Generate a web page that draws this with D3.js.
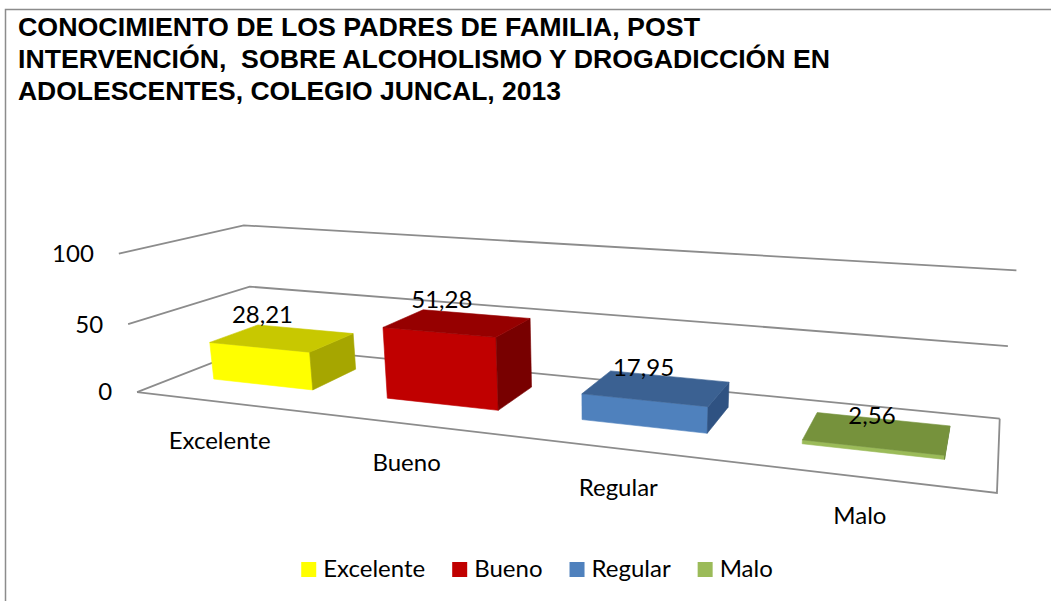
<!doctype html>
<html lang="es">
<head>
  <meta charset="utf-8">
  <script src="https://d3js.org/d3.v7.min.js"></script>
  <style>
    html, body { margin: 0; padding: 0; background: #fff; }
    svg { display: block; }
  </style>
</head>
<body>
<script>
  // chart data
  var categories = ["Excelente", "Bueno", "Regular", "Malo"];
  var values = [28.21, 51.28, 17.95, 2.56];
  var valueLabels = ["28,21", "51,28", "17,95", "2,56"];
  var ticks = [0, 50, 100];
  var frontColors = ["#ffff00", "#c00000", "#4f81bd", "#9bbb59"];
  var topColors = ["#c8c800", "#960000", "#3b6192", "#76923c"];
  var sideColors = ["#a6a600", "#780000", "#2f5282", "#5e7a2e"];
  var titleLines = [
    "CONOCIMIENTO DE LOS PADRES DE FAMILIA, POST",
    "INTERVENCIÓN,  SOBRE ALCOHOLISMO Y DROGADICCIÓN EN",
    "ADOLESCENTES, COLEGIO JUNCAL, 2013"
  ];

  var width = 1051, height = 601;
  var labelFont = "Lato, Carlito, Calibri, sans-serif";

  // perspective of the 3d box: world (x, y, z) in [0,1], z = depth (0 front)
  // pinned to where the box corners sit in the picture
  var pins = [
    [0, 0, 0, 137, 393], [0, 0.5, 0, 127, 322], [0, 1, 0, 120, 255],
    [0, 0, 1, 256, 346], [0, 0.5, 1, 250, 287], [0, 1, 1, 243, 225],
    [1, 0, 1, 1000, 418], [1, 0.5, 1, 1007, 347], [1, 1, 1, 1017, 270],
    [1, 0, 0, 997, 493]
  ];

  function fitCamera(pins) {
    var A = [], b = [];
    pins.forEach(function(p) {
      var X = p[0], Y = p[1], Z = p[2], u = p[3], v = p[4];
      A.push([X, Y, Z, 1, 0, 0, 0, 0, -u * X, -u * Y, -u * Z]); b.push(u);
      A.push([0, 0, 0, 0, X, Y, Z, 1, -v * X, -v * Y, -v * Z]); b.push(v);
    });
    var n = 11, M = [];
    for (var i = 0; i < n; i++) {
      M.push([]);
      for (var j = 0; j <= n; j++) {
        var s = 0;
        for (var k = 0; k < A.length; k++) s += A[k][i] * (j < n ? A[k][j] : b[k]);
        M[i].push(s);
      }
    }
    // gaussian elimination
    for (var c = 0; c < n; c++) {
      var piv = c;
      for (var r = c + 1; r < n; r++) if (Math.abs(M[r][c]) > Math.abs(M[piv][c])) piv = r;
      var tmp = M[c]; M[c] = M[piv]; M[piv] = tmp;
      for (var r2 = 0; r2 < n; r2++) {
        if (r2 === c) continue;
        var f = M[r2][c] / M[c][c];
        for (var j2 = c; j2 <= n; j2++) M[r2][j2] -= f * M[c][j2];
      }
    }
    return M.map(function(row, i) { return row[n] / row[i]; });
  }

  var P = fitCamera(pins);

  function proj(x, y, z) {
    var w = P[8] * x + P[9] * y + P[10] * z + 1;
    return [(P[0] * x + P[1] * y + P[2] * z + P[3]) / w,
            (P[4] * x + P[5] * y + P[6] * z + P[7]) / w];
  }

  // scales in world units
  var xScale = d3.scaleBand()
    .domain(categories)
    .range([0, 1])
    .paddingInner(0.416)
    .paddingOuter(0.208);

  var yScale = d3.scaleLinear()
    .domain([0, 100])
    .range([0, 1]);

  var zBar = [0.33, 0.75];

  var svg = d3.select("body").append("svg")
    .attr("width", width)
    .attr("height", height);

  // chart area border (only top and left edges fall inside the picture)
  svg.append("rect")
    .attr("x", 5.5)
    .attr("y", 9.5)
    .attr("width", width + 10)
    .attr("height", height + 10)
    .attr("fill", "#fff")
    .attr("stroke", "#8c8c8c")
    .attr("stroke-width", 1.5);

  // title
  var titleWidths = [682, 812, 543];
  svg.append("g")
    .selectAll("text")
    .data(titleLines)
    .enter()
    .append("text")
    .attr("x", 18)
    .attr("y", function(d, i) { return 36 + i * 32; })
    .attr("textLength", function(d, i) { return titleWidths[i]; })
    .attr("lengthAdjust", "spacingAndGlyphs")
    .style("white-space", "pre")
    .style("font-family", "'Liberation Sans Narrow', 'Arial Narrow', 'Liberation Sans', Arial, sans-serif")
    .style("font-weight", "bold")
    .style("font-size", "25px")
    .attr("fill", "#000")
    .text(function(d) { return d; });

  // walls and floor lines
  var line = d3.line();
  var grid = svg.append("g")
    .attr("fill", "none")
    .attr("stroke", "#8c8c8c")
    .attr("stroke-width", 1.8);

  ticks.forEach(function(t) {
    var y = yScale(t);
    grid.append("path").attr("d", line([proj(0, y, 0), proj(0, y, 1), proj(1, y, 1)]));
  });
  grid.append("path").attr("d", line([proj(0, 0, 0), proj(1, 0, 0), proj(1, 0, 1)]));

  // value axis labels
  svg.append("g")
    .selectAll("text")
    .data(ticks)
    .enter()
    .append("text")
    .attr("x", function(d) { return proj(0, yScale(d), 0)[0] - 25; })
    .attr("y", function(d) { return proj(0, yScale(d), 0)[1]; })
    .attr("dy", "0.35em")
    .attr("text-anchor", "end")
    .style("font-family", labelFont)
    .style("font-size", "24px")
    .text(function(d) { return d; });

  // 3d bars
  var faces = [
    { key: "front", pts: [[0,0,0],[0,1,0],[1,1,0],[1,0,0]] },
    { key: "back", pts: [[0,0,1],[1,0,1],[1,1,1],[0,1,1]] },
    { key: "left", pts: [[0,0,0],[0,0,1],[0,1,1],[0,1,0]] },
    { key: "right", pts: [[1,0,0],[1,1,0],[1,1,1],[1,0,1]] },
    { key: "bottom", pts: [[0,0,0],[1,0,0],[1,0,1],[0,0,1]] },
    { key: "top", pts: [[0,1,0],[0,1,1],[1,1,1],[1,1,0]] }
  ];

  function area(poly) {
    var s = 0;
    for (var i = 0; i < poly.length; i++) {
      var a = poly[i], b = poly[(i + 1) % poly.length];
      s += a[0] * b[1] - b[0] * a[1];
    }
    return s;
  }

  var bars = svg.append("g");
  categories.forEach(function(c, i) {
    var x0 = xScale(c), x1 = x0 + xScale.bandwidth();
    var y1 = yScale(values[i]);
    var corner = function(q) {
      return proj(q[0] ? x1 : x0, q[1] ? y1 : 0, q[2] ? zBar[1] : zBar[0]);
    };
    var polys = faces.map(function(f) { return { key: f.key, poly: f.pts.map(corner) }; });
    var sign = Math.sign(area(polys[0].poly));
    polys.forEach(function(f) {
      if (Math.sign(area(f.poly)) !== sign) return;
      var fill = f.key === "front" ? frontColors[i] : f.key === "top" ? topColors[i] : sideColors[i];
      bars.append("path")
        .attr("d", line(f.poly) + "Z")
        .attr("fill", fill)
        .attr("stroke", fill)
        .attr("stroke-width", 0.6);
    });
  });

  // value labels
  svg.append("g")
    .selectAll("text")
    .data(categories)
    .enter()
    .append("text")
    .attr("x", function(d) { return proj(xScale(d) + xScale.bandwidth() / 2, 0, zBar[0])[0]; })
    .attr("y", function(d, i) {
      return proj(xScale(d) + xScale.bandwidth() / 2, yScale(values[i]), zBar[0])[1] - 24;
    })
    .attr("text-anchor", "middle")
    .style("font-family", labelFont)
    .style("font-size", "24px")
    .text(function(d, i) { return valueLabels[i]; });

  // category labels along the front edge of the floor
  svg.append("g")
    .selectAll("text")
    .data(categories)
    .enter()
    .append("text")
    .attr("x", function(d) { return proj(xScale(d) + xScale.bandwidth() / 2, 0, 0)[0] - 3; })
    .attr("y", function(d) { return proj(xScale(d) + xScale.bandwidth() / 2, 0, 0)[1] + 47; })
    .attr("text-anchor", "middle")
    .style("font-family", labelFont)
    .style("font-size", "24px")
    .text(function(d) { return d; });

  // legend
  var legend = svg.append("g");
  var lx = 0;
  categories.forEach(function(c, i) {
    var g = legend.append("g").attr("transform", "translate(" + lx + ",0)");
    g.append("rect")
      .attr("x", 0)
      .attr("y", -15)
      .attr("width", 15)
      .attr("height", 15)
      .attr("fill", frontColors[i]);
    var t = g.append("text")
      .attr("x", 22)
      .attr("y", 0)
      .style("font-family", labelFont)
      .style("font-size", "24px")
      .text(c);
    lx += 22 + t.node().getComputedTextLength() + 27;
  });
  var legendWidth = lx - 27;
  legend.attr("transform", "translate(" + (537 - legendWidth / 2) + ",577)");
</script>
</body>
</html>
